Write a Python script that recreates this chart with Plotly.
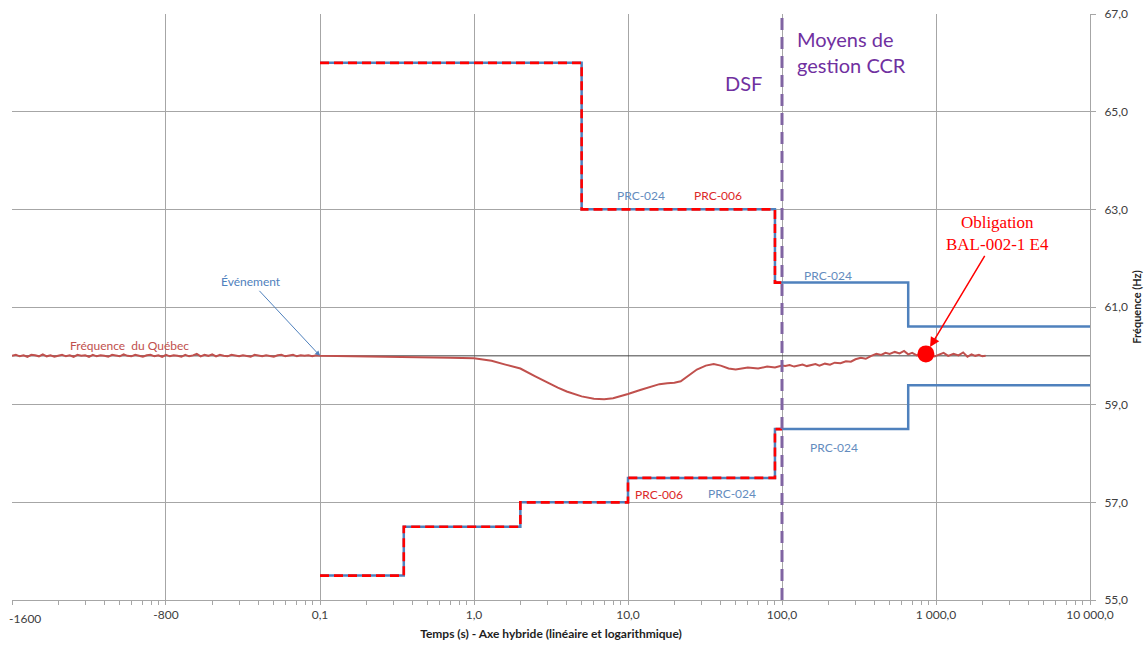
import numpy as np
import plotly.graph_objects as go

# ---------------- data ----------------
# hybrid time axis: linear from -1600 s to 0.1 s, logarithmic from 0.1 s to 10 000 s
major_t = [-1600, -800, 0.1, 1, 10, 100, 1000, 10000]
major_lbl = ["-1600", "-800", "0,1", "1,0", "10,0", "100,0", "1 000,0", "10 000,0"]
y_ticks = [55, 57, 59, 61, 63, 65, 67]
y_lbl = ["55,0", "57,0", "59,0", "61,0", "63,0", "65,0", "67,0"]

# PRC-024 (blue) and PRC-006 (red dashed) limits
prc024_hi_t = [0.1, 5, 90, 660, 10000]
prc024_hi_f = [66, 63, 61.5, 60.6, 60.6]
prc006_hi_t = [0.1, 5, 90, 100]
prc006_hi_f = [66, 63, 61.5, 61.5]
prc024_lo_t = [0.1, 0.35, 2, 10, 90, 660, 10000]
prc024_lo_f = [55.5, 56.5, 57, 57.5, 58.5, 59.4, 59.4]
prc006_lo_t = [0.1, 0.35, 2, 10, 90, 100]
prc006_lo_f = [55.5, 56.5, 57, 57.5, 58.5, 58.5]

# Fréquence du Québec - before event (linear part)
pre_t = [-1600, -1580, -1560, -1540, -1520, -1500, -1480, -1460, -1440, -1420,
         -1400, -1380, -1360, -1340, -1320, -1300, -1280, -1260, -1240, -1220,
         -1200, -1180, -1160, -1140, -1120, -1100, -1080, -1060, -1040, -1020,
         -1000, -980, -960, -940, -920, -900, -880, -860, -840, -820,
         -800, -780, -760, -740, -720, -700, -680, -660, -640, -620,
         -600, -580, -560, -540, -520, -500, -480, -460, -440, -420,
         -400, -380, -360, -340, -320, -300, -280, -260, -240, -220,
         -200, -180, -160, -140, -120, -100, -80, -60, -40, -20, 0.1]
pre_f = [60.00, 60.02, 59.99, 60.01, 59.98, 60.02, 60.01, 59.99, 60.03, 59.99,
         60.01, 59.98, 60.00, 60.02, 59.99, 60.01, 59.98, 60.02, 60.00, 60.01,
         59.98, 60.02, 59.99, 60.01, 60.00, 59.98, 60.02, 60.00, 59.99, 60.03,
         60.00, 59.99, 60.02, 60.00, 59.98, 60.01, 60.02, 59.99, 60.01, 59.98,
         60.02, 59.99, 60.01, 60.00, 59.98, 60.02, 59.99, 60.01, 60.04, 59.99,
         60.02, 60.00, 60.03, 59.99, 60.02, 60.00, 59.99, 60.02, 60.01, 59.99,
         60.01, 60.00, 59.98, 60.02, 60.00, 59.99, 60.01, 60.00, 59.98, 60.01,
         60.02, 59.99, 60.00, 60.02, 59.99, 60.01, 60.00, 60.01, 59.99, 60.01, 60.00]
# after event (log part)
post_t = [0.2, 0.3, 0.5, 0.7, 1.0, 1.3, 1.6, 2.0, 2.5, 3.0,
          3.5, 4.0, 5.0, 6.0, 7.0, 8.0, 9.0, 10, 12, 14,
          16, 18, 20, 22, 25, 28, 32, 36, 40, 45,
          50, 55, 60, 70, 80, 90, 100,
          105, 112, 120, 128, 136, 145, 155, 165, 175, 190,
          205, 220, 240, 260, 280, 300, 325, 350, 380, 410,
          440, 470, 500, 540, 580, 620, 660, 700, 750, 800,
          860, 920, 980, 1050, 1120, 1200, 1300, 1400, 1500, 1600,
          1700, 1800, 1900, 2000, 2100]
post_f = [59.99, 59.98, 59.97, 59.96, 59.95, 59.90, 59.82, 59.74, 59.58, 59.45,
          59.35, 59.27, 59.17, 59.12, 59.11, 59.13, 59.17, 59.22, 59.30, 59.37,
          59.42, 59.44, 59.45, 59.48, 59.60, 59.72, 59.80, 59.83, 59.80, 59.74,
          59.72, 59.74, 59.76, 59.74, 59.78, 59.76, 59.80,
          59.79, 59.81, 59.78, 59.80, 59.82, 59.79, 59.81, 59.83, 59.80, 59.84,
          59.82, 59.86, 59.85, 59.89, 59.88, 59.93, 59.96, 59.94, 60.00, 60.04,
          60.02, 60.06, 60.04, 60.08, 60.05, 60.10, 60.03, 60.06, 60.01, 60.04,
          60.02, 60.05, 59.99, 60.03, 60.06, 60.00, 60.04, 60.01, 60.07, 59.98,
          60.03, 60.00, 60.02, 59.99, 60.00]

nominal_f = 60.0
dsf_limit_t = 100
event_t, event_f = 0.1, 60.0
bal_t, bal_f = [860], [60.04]

# ---------------- hybrid axis transform ----------------
T_MIN, T_SPLIT = -1600.0, 0.1
LIN_DECADES = 2.0  # width of the linear part in "decades"


def hx(t):
    t = np.asarray(t, dtype=float)
    lin = (t - T_SPLIT) / (T_SPLIT - T_MIN) * LIN_DECADES
    lg = np.log10(np.maximum(t, T_SPLIT) / T_SPLIT)
    return np.where(t <= T_SPLIT, lin, lg)


u_min, u_max = float(hx(T_MIN)), float(hx(10000))
minor_u = [s + np.log10(k) for s in range(int(round(u_min)), int(round(u_max))) for k in range(2, 10)]

BLUE = "rgb(79,129,189)"
RED = "rgb(255,0,0)"
FREQ = "rgb(192,80,77)"
PURPLE_LINE = "rgb(128,100,162)"
PURPLE_TXT = "rgb(112,48,160)"
GRID = "rgb(166,166,166)"
FONT = "Lato, Open Sans, sans-serif"

fig = go.Figure()

for tt, ff in [(prc024_hi_t, prc024_hi_f), (prc024_lo_t, prc024_lo_f)]:
    fig.add_trace(go.Scatter(x=hx(tt), y=ff, mode="lines", line_shape="hv",
                             line=dict(color=BLUE, width=2.5), showlegend=False, hoverinfo="skip"))
for tt, ff in [(prc006_hi_t, prc006_hi_f), (prc006_lo_t, prc006_lo_f)]:
    fig.add_trace(go.Scatter(x=hx(tt), y=ff, mode="lines", line_shape="hv",
                             line=dict(color=RED, width=2.6, dash="9px,5px"), showlegend=False, hoverinfo="skip"))

# nominal frequency line
fig.add_trace(go.Scatter(x=[u_min, u_max], y=[nominal_f, nominal_f], mode="lines",
                         line=dict(color="rgb(64,64,64)", width=1), showlegend=False, hoverinfo="skip"))

freq_t = pre_t + post_t
freq_f = pre_f + post_f
fig.add_trace(go.Scatter(x=hx(freq_t), y=freq_f, mode="lines",
                         line=dict(color=FREQ, width=2), showlegend=False))

fig.add_trace(go.Scatter(x=hx(bal_t), y=bal_f, mode="markers",
                         marker=dict(color=RED, size=17), showlegend=False))

# DSF vertical
fig.add_shape(type="line", x0=float(hx(dsf_limit_t)), x1=float(hx(dsf_limit_t)), y0=0, y1=1,
              xref="x", yref="paper", line=dict(color=PURPLE_LINE, width=3, dash="12px,7px"), layer="above")

ann = []


def txt(t, f, s, color, size=12, xanchor="center", family=FONT, **kw):
    ann.append(dict(x=float(hx(t)), y=f, text=s, showarrow=False, xanchor=xanchor,
                    font=dict(color=color, size=size, family=family), **kw))


PRC24_TXT = "rgb(100,140,190)"
PRC06_TXT = "rgb(220,40,40)"
txt(12.2, 63.29, "PRC-024", PRC24_TXT)
txt(38.5, 63.29, "PRC-006", PRC06_TXT)
txt(199, 61.65, "PRC-024", PRC24_TXT)
txt(218, 58.13, "PRC-024", PRC24_TXT)
txt(16, 57.17, "PRC-006", PRC06_TXT)
txt(47.5, 57.19, "PRC-024", PRC24_TXT)
txt(-990, 60.22, "Fréquence  du Québec", FREQ)
txt(56, 65.59, "DSF", PURPLE_TXT, size=20)
txt(121, 66.22, "Moyens de<br>gestion CCR", PURPLE_TXT, size=20, xanchor="left", align="left")

# Événement arrow
ann.append(dict(x=float(hx(event_t)), y=event_f, text="Événement", showarrow=True,
                ax=-69, ay=-74, arrowhead=2, arrowsize=1, arrowwidth=1, arrowcolor=BLUE,
                font=dict(color=BLUE, size=12, family=FONT)))
# Obligation arrow
ann.append(dict(x=float(hx(bal_t[0])), y=bal_f[0], text="Obligation<br>BAL-002-1 E4", showarrow=True,
                ax=72, ay=-120, arrowhead=2, arrowsize=1.3, arrowwidth=1.5, arrowcolor=RED, standoff=8,
                font=dict(color=RED, size=17, family="Liberation Serif, Times New Roman, serif")))
# -1600 label (shifted to stay inside the canvas)
ann.append(dict(x=float(hx(-1600)), y=0, yref="paper", yanchor="top", xanchor="left", yshift=-9,
                text="-1600", showarrow=False, xshift=-5,
                font=dict(color="rgb(64,64,64)", size=12, family=FONT)))

fig.update_layout(
    width=1145, height=645,
    margin=dict(l=12, r=55, t=14, b=45),
    plot_bgcolor="white", paper_bgcolor="white",
    annotations=ann,
    font=dict(family=FONT, size=12, color="rgb(64,64,64)"),
    xaxis=dict(range=[u_min, u_max], tickmode="array", tickvals=list(hx(major_t)), automargin=False,
               ticktext=[""] + major_lbl[1:], showgrid=True, gridcolor=GRID, gridwidth=1,
               zeroline=False, showline=True, linecolor=GRID, linewidth=1,
               ticks="outside", ticklen=4, tickcolor=GRID,
               minor=dict(tickmode="array", tickvals=minor_u, ticks="outside", ticklen=4,
                          tickcolor=GRID, showgrid=False),
               tickfont=dict(size=12, color="rgb(64,64,64)"),
               title=dict(text="<b>Temps (s) - Axe hybride (linéaire et logarithmique)</b>",
                          font=dict(size=12, color="rgb(30,30,30)"), standoff=8)),
    yaxis=dict(range=[55, 67], side="right", tickmode="array", tickvals=y_ticks, ticktext=y_lbl,
               automargin=False, ticklabelstandoff=6,
               showgrid=True, gridcolor=GRID, gridwidth=1, zeroline=False,
               showline=True, linecolor=GRID, linewidth=1, ticks="outside", ticklen=5, tickcolor=GRID,
               tickfont=dict(size=12, color="rgb(64,64,64)"),
               title=dict(text="<b>Fréquence (Hz)</b>", font=dict(size=11, color="rgb(30,30,30)"),
                          standoff=6)),
)

fig.write_html("out.html", post_script="document.body.style.margin='0';",
               config={"displayModeBar": False})
